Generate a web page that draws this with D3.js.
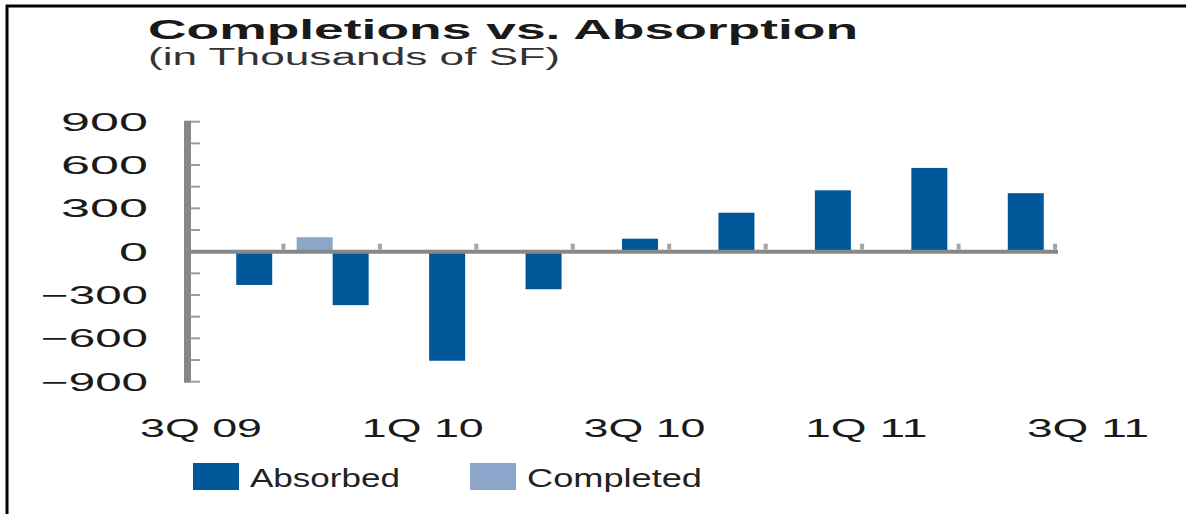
<!DOCTYPE html>
<html><head>
<meta charset="utf-8">
<title>Completions vs. Absorption</title>
<script src="https://d3js.org/d3.v7.min.js"></script>
<style>
  body { margin: 0; background: #fff; }
  svg text { font-family: "Liberation Sans", Arial, sans-serif; fill: #1a1a1a; }
</style>
</head>
<body>
<svg id="chart" width="1186" height="514"></svg>
<script>
// quarters, every one gets a bar
const quarters = ["3Q 09", "4Q 09", "1Q 10", "2Q 10", "3Q 10", "4Q 10", "1Q 11", "2Q 11", "3Q 11"];
// only every other quarter is labelled
const xLabels = ["3Q 09", "1Q 10", "3Q 10", "1Q 11", "3Q 11"];
const absorbed = [-230, -370, -755, -260, 90, 270, 425, 580, 405];
const completed = [0, 100, 0, 0, 0, 0, 0, 0, 0];
const yTicks = [900, 600, 300, 0, -300, -600, -900];
const series = ["Completed", "Absorbed"];

const svg = d3.select("#chart");

// frame (only top and left edges show in the picture)
svg.append("line").attr("x1", 6).attr("x2", 1186).attr("y1", 6).attr("y2", 6)
  .style("stroke", "#000").style("stroke-width", 3);
svg.append("line").attr("x1", 7).attr("x2", 7).attr("y1", 5).attr("y2", 514)
  .style("stroke", "#000").style("stroke-width", 3);

// title
svg.append("text").attr("x", 148).attr("y", 39)
  .attr("textLength", 710).attr("lengthAdjust", "spacingAndGlyphs")
  .style("font-size", "28px").style("font-weight", "bold")
  .text("Completions vs. Absorption");
svg.append("text").attr("x", 148).attr("y", 65)
  .attr("textLength", 412).attr("lengthAdjust", "spacingAndGlyphs")
  .style("font-size", "23px").style("fill", "#333")
  .text("(in Thousands of SF)");

// scales
let xScale = d3.scaleBand().domain(quarters).range([188, 1056]);
let bw = xScale.bandwidth();
let sScale = d3.scaleBand().domain(series).range([bw / 2 - 36, bw / 2 + 36]);
let yScale = d3.scaleLinear().domain([-900, 900]).range([381.7, 121.7]);
let colorScale = d3.scaleOrdinal().domain(series).range(["#8ba5cb", "#00579a"]);

// y labels, stretched wide like the original
svg.selectAll("text.ylab").data(yTicks).join("text")
  .attr("class", "ylab")
  .attr("x", 148)
  .attr("y", d => yScale(d) + 9)
  .attr("text-anchor", "end")
  .attr("textLength", d => String(Math.abs(d)).length * 29 + (d < 0 ? 20 : 0))
  .attr("lengthAdjust", "spacingAndGlyphs")
  .style("font-size", "25px")
  .text(d => d < 0 ? "\u2212" + Math.abs(d) : d);

// bars: completed first, absorbed drawn on top
let barData = [];
quarters.forEach(function(q, i) {
  barData.push({ q: q, s: "Completed", v: completed[i] });
});
quarters.forEach(function(q, i) {
  barData.push({ q: q, s: "Absorbed", v: absorbed[i] });
});
svg.selectAll("rect.bar").data(barData.filter(d => d.v !== 0)).join("rect")
  .attr("class", "bar")
  .attr("x", d => xScale(d.q) + sScale(d.s))
  .attr("width", sScale.bandwidth())
  .attr("y", d => Math.min(yScale(d.v), yScale(0)))
  .attr("height", d => Math.abs(yScale(d.v) - yScale(0)))
  .style("fill", d => colorScale(d.s));

// y axis line and minor ticks
svg.append("rect").attr("x", 184).attr("width", 7)
  .attr("y", yScale(900) - 1).attr("height", yScale(-900) - yScale(900) + 2)
  .style("fill", "#878787");
svg.selectAll("line.ytick").data(d3.range(-900, 901, 150)).join("line")
  .attr("class", "ytick")
  .attr("x1", 190).attr("x2", 200)
  .attr("y1", d => yScale(d)).attr("y2", d => yScale(d))
  .style("stroke", "#9a9a9a").style("stroke-width", 2);

// zero line
svg.append("line").attr("x1", 188).attr("x2", 1058)
  .attr("y1", yScale(0)).attr("y2", yScale(0))
  .style("stroke", "#878787").style("stroke-width", 4);

// category boundary ticks sitting on the zero line
svg.selectAll("rect.xtick").data(quarters).join("rect")
  .attr("class", "xtick")
  .attr("x", d => xScale(d) + bw - 3)
  .attr("width", 4)
  .attr("y", yScale(0) - 8).attr("height", 6)
  .style("fill", "#a5a5a5");

// x labels (placed on their own spread, as in the original)
let labelScale = d3.scalePoint().domain(xLabels).range([201, 1088]);
svg.selectAll("text.xlab").data(xLabels).join("text")
  .attr("class", "xlab")
  .attr("x", d => labelScale(d))
  .attr("y", 437)
  .attr("text-anchor", "middle")
  .attr("textLength", 122).attr("lengthAdjust", "spacingAndGlyphs")
  .style("font-size", "25px")
  .text(d => d);

// legend
let legendX = d3.scalePoint().domain(["Absorbed", "Completed"]).range([193, 470]);
let legend = svg.selectAll("g.leg").data(["Absorbed", "Completed"]).join("g")
  .attr("class", "leg")
  .attr("transform", d => "translate(" + legendX(d) + ",463)");
legend.append("rect").attr("width", 46).attr("height", 27)
  .style("fill", d => colorScale(d));
legend.append("text").attr("x", 57).attr("y", 24)
  .attr("textLength", d => d === "Absorbed" ? 150 : 175)
  .attr("lengthAdjust", "spacingAndGlyphs")
  .style("font-size", "26px").style("fill", "#222")
  .text(d => d);
</script>
</body>
</html>
